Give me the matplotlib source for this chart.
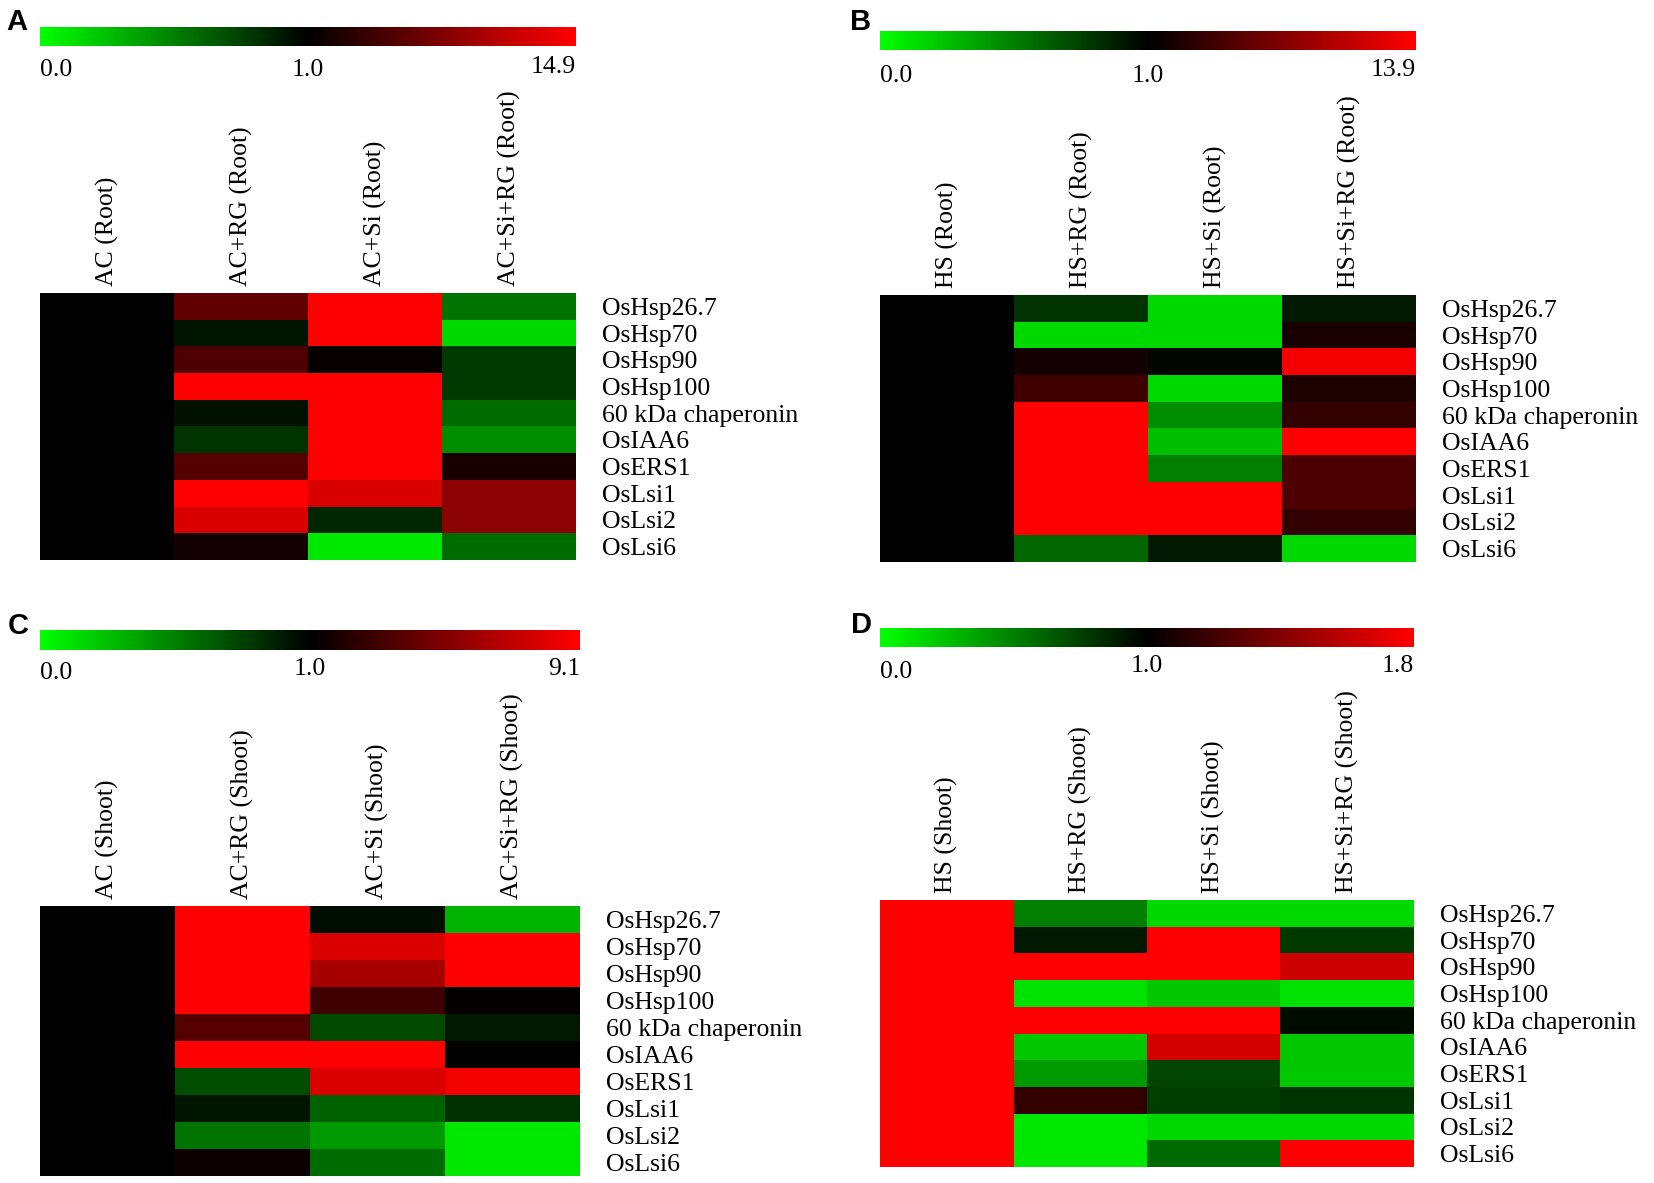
import numpy as np
import matplotlib
matplotlib.use("Agg")
import matplotlib.pyplot as plt
from matplotlib.colors import LinearSegmentedColormap, TwoSlopeNorm
from matplotlib.cm import ScalarMappable

genes = ["OsHsp26.7", "OsHsp70", "OsHsp90", "OsHsp100", "60 kDa chaperonin",
         "OsIAA6", "OsERS1", "OsLsi1", "OsLsi2", "OsLsi6"]

cols_A = ["AC (Root)", "AC+RG (Root)", "AC+Si (Root)", "AC+Si+RG (Root)"]
cols_B = ["HS (Root)", "HS+RG (Root)", "HS+Si (Root)", "HS+Si+RG (Root)"]
cols_C = ["AC (Shoot)", "AC+RG (Shoot)", "AC+Si (Shoot)", "AC+Si+RG (Shoot)"]
cols_D = ["HS (Shoot)", "HS+RG (Shoot)", "HS+Si (Shoot)", "HS+Si+RG (Shoot)"]

max_A, max_B, max_C, max_D = 14.9, 13.9, 9.1, 1.8

vals_A = [
    [1.0, 6.3, 14.9, 0.55],
    [1.0, 0.92, 14.9, 0.15],
    [1.0, 5.2, 1.4, 0.78],
    [1.0, 14.9, 14.9, 0.78],
    [1.0, 0.93, 14.9, 0.58],
    [1.0, 0.8, 14.9, 0.45],
    [1.0, 5.6, 14.9, 2.4],
    [1.0, 14.9, 12.8, 8.6],
    [1.0, 12.8, 0.85, 8.6],
    [1.0, 2.0, 0.1, 0.58],
]
vals_B = [
    [1.0, 0.8, 0.15, 0.9],
    [1.0, 0.15, 0.15, 2.3],
    [1.0, 2.0, 0.97, 13.3],
    [1.0, 4.2, 0.15, 2.5],
    [1.0, 13.9, 0.45, 3.6],
    [1.0, 13.9, 0.25, 13.9],
    [1.0, 13.9, 0.5, 4.9],
    [1.0, 13.9, 13.9, 4.9],
    [1.0, 13.9, 13.9, 3.6],
    [1.0, 0.6, 0.9, 0.15],
]
vals_C = [
    [1.0, 9.1, 0.95, 0.3],
    [1.0, 9.1, 7.9, 9.1],
    [1.0, 9.1, 6.3, 9.1],
    [1.0, 9.1, 3.0, 1.15],
    [1.0, 3.7, 0.72, 0.9],
    [1.0, 9.1, 9.1, 1.0],
    [1.0, 0.7, 7.9, 8.7],
    [1.0, 0.92, 0.62, 0.82],
    [1.0, 0.55, 0.4, 0.1],
    [1.0, 1.4, 0.58, 0.1],
]
vals_D = [
    [1.8, 0.5, 0.15, 0.15],
    [1.8, 0.9, 1.8, 0.78],
    [1.8, 1.8, 1.8, 1.64],
    [1.8, 0.12, 0.22, 0.12],
    [1.8, 1.8, 1.8, 0.96],
    [1.8, 0.22, 1.66, 0.22],
    [1.8, 0.4, 0.73, 0.22],
    [1.8, 1.16, 0.75, 0.8],
    [1.8, 0.1, 0.15, 0.15],
    [1.8, 0.1, 0.58, 1.8],
]

W, H = 1654, 1183
fig = plt.figure(figsize=(W / 100, H / 100), dpi=100)
fig.patch.set_facecolor("white")

cmap = LinearSegmentedColormap.from_list("gbr", [(0, 1, 0), (0, 0, 0), (1, 0, 0)])
SERIF = "Liberation Serif"
FS = 18.5


def rect(x0, y0, x1, y1):
    return [x0 / W, 1 - y1 / H, (x1 - x0) / W, (y1 - y0) / H]


panels = [
    # letter, letter pos, cols, vals, vmax, cbar box, heat box, label y (min/mid, max)
    ("A", (6, 30), cols_A, vals_A, max_A, (40, 27, 576, 46), (40, 293, 576, 560), (70, 70, 67)),
    ("B", (850, 30), cols_B, vals_B, max_B, (880, 31, 1416, 50), (880, 295, 1416, 562), (76, 76, 70)),
    ("C", (8, 634), cols_C, vals_C, max_C, (40, 630, 580, 650), (40, 906, 580, 1176), (673, 669, 669)),
    ("D", (851, 633), cols_D, vals_D, max_D, (880, 628, 1414, 647), (880, 900, 1414, 1167), (672, 666, 666)),
]

for letter, lpos, cols, vals, vmax, cb, hb, ly in panels:
    norm = TwoSlopeNorm(vmin=0.0, vcenter=1.0, vmax=vmax)
    data = np.array(vals)

    # colour bar
    cax = fig.add_axes(rect(*cb))
    sm = ScalarMappable(norm=norm, cmap=cmap)
    cbar = fig.colorbar(sm, cax=cax, orientation="horizontal")
    cbar.outline.set_visible(False)
    cax.set_xticks([])
    cax.set_yticks([])
    labels = [("0.0", cb[0], "left", ly[0]),
              ("1.0", (cb[0] + cb[2]) / 2, "center", ly[1]),
              (f"{vmax:.1f}", cb[2], "right", ly[2])]
    for txt, x, ha, y in labels:
        fig.text(x / W, 1 - y / H, txt, ha=ha, va="center", fontsize=FS,
                 family=SERIF)

    # heatmap
    ax = fig.add_axes(rect(*hb))
    ax.pcolormesh(data, cmap=cmap, norm=norm)
    ax.set_xlim(0, data.shape[1])
    ax.set_ylim(data.shape[0], 0)
    for s in ax.spines.values():
        s.set_visible(False)
    ax.set_xticks(np.arange(data.shape[1]) + 0.5)
    ax.set_xticklabels(cols, rotation=90, fontsize=FS, family=SERIF)
    ax.xaxis.tick_top()
    ax.tick_params(axis="x", length=0, pad=5)
    ax.set_yticks(np.arange(data.shape[0]) + 0.5)
    ax.set_yticklabels(genes, fontsize=FS, family=SERIF)
    ax.yaxis.tick_right()
    ax.tick_params(axis="y", length=0, pad=19)

    fig.text(lpos[0] / W, 1 - lpos[1] / H, letter, ha="left", va="baseline",
             fontsize=21, fontweight="bold", family="Liberation Sans")

fig.savefig("out.png", dpi=100, facecolor="white")
